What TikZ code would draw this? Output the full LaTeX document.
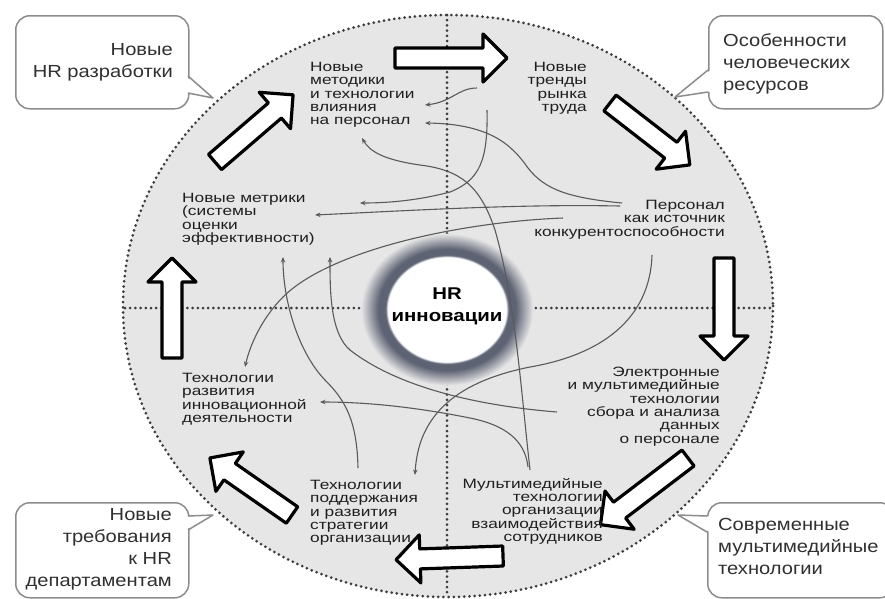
\documentclass[tikz,border=0pt]{standalone}
\usepackage{fontspec}
\setmainfont{Liberation Sans}
\newfontfamily\lblfont{Liberation Sans}[FakeStretch=1.28]
\newfontfamily\calfont{Liberation Sans}[FakeStretch=1.15]
\newfontfamily\ctrfont{Liberation Sans}[FakeStretch=1.2]
\usetikzlibrary{arrows.meta}
\definecolor{ellfill}{HTML}{E6E6E6}
\definecolor{ringc}{HTML}{5E6374}
\definecolor{dotc}{HTML}{3C3C3C}
\definecolor{curvec}{HTML}{5A5A5A}
\definecolor{txtc}{HTML}{1F1F1F}
\definecolor{calc}{HTML}{303030}
\definecolor{boxc}{HTML}{8C8C8C}
\pgfdeclareradialshading{hrring}{\pgfpoint{0bp}{0bp}}{color(0bp)=(white); color(17.2bp)=(white); color(17.9bp)=(ringc); color(20bp)=(ringc); color(25bp)=(ellfill); color(50bp)=(ellfill)}
\newcommand\blockarr[4]{%
  \draw[barr, shift={(#1,#2)}, rotate=#3] (0,-10) -- ({#4-24},-10) -- ({#4-24},-24) -- (#4,0) -- ({#4-24},24) -- ({#4-24},10) -- (0,10) -- cycle;}
\begin{document}
\begin{tikzpicture}[x=1pt,y=-1pt,
  dotl/.style={draw=dotc, line width=3pt, line cap=round, dash pattern=on 0pt off 5.2pt},
  conn/.style={draw=curvec, line width=1.1pt, -{Stealth[length=5.5pt,width=4.5pt]}},
  barr/.style={draw=black, fill=white, line width=3.2pt, line join=round},
  lbl/.style={inner sep=0pt, text=txtc, font=\lblfont\fontsize{13.5pt}{13.3pt}\selectfont},
  cal/.style={inner sep=0pt, text=calc, font=\calfont\fontsize{17.5pt}{22pt}\selectfont},
  calbox/.style={draw=boxc, fill=white, line width=1.5pt, rounded corners=14pt, inner sep=0pt},
  tailline/.style={draw=boxc, line width=1.5pt, line join=round},
  ctr/.style={inner sep=0pt, align=center, text=black, font=\ctrfont\bfseries\fontsize{17pt}{22pt}\selectfont}]
\clip (0,0) rectangle (885,598);
\fill[white] (0,0) rectangle (885,598);
% ellipse and crosshair
\fill[ellfill] (448,306) ellipse [x radius=325, y radius=291];
\draw[dotl] (447,15) -- (447,597);
\draw[dotl] (125,308) -- (771,308);
\draw[dotl] (448,306) ellipse [x radius=325, y radius=291];
\shade[shading=hrring] (447,309.5) ellipse [x radius=86pt, y radius=76pt];
% curves
\coordinate (c1s) at (477,88); \coordinate (c1e) at (425,105);
\draw[conn] (c1s) .. controls (458,88) and (452,102) .. (c1e);
\coordinate (c2s) at (622,203); \coordinate (c2e) at (425,123);
\draw[conn] (c2s) .. controls (570,198) and (545,190) .. (528,168) .. controls (512,145) and (490,124) .. (c2e);
\coordinate (c3s) at (530,470); \coordinate (c3e) at (362,138);
\draw[conn] (c3s) .. controls (520,380) and (515,300) .. (495,230) .. controls (480,185) and (460,170) .. (420,165) .. controls (385,160) and (370,152) .. (c3e);
\coordinate (c4s) at (487,110); \coordinate (c4e) at (360,203);
\draw[conn] (c4s) .. controls (488,160) and (480,180) .. (450,192) .. controls (420,200) and (390,203) .. (c4e);
\coordinate (c5s) at (620,206); \coordinate (c5e) at (315,215);
\draw[conn] (c5s) .. controls (520,204) and (420,210) .. (c5e);
\coordinate (c6s) at (563,218); \coordinate (c6e) at (245,367);
\draw[conn] (c6s) .. controls (460,222) and (330,250) .. (283,297) .. controls (262,318) and (250,345) .. (c6e);
\coordinate (c7s) at (652,255); \coordinate (c7e) at (415,475);
\draw[conn] (c7s) .. controls (650,320) and (600,355) .. (530,367) .. controls (450,383) and (418,420) .. (c7e);
\coordinate (c8s) at (358,468); \coordinate (c8e) at (283,257);
\draw[conn] (c8s) .. controls (357,420) and (345,400) .. (325,380) .. controls (298,352) and (283,300) .. (c8e);
\coordinate (c9s) at (557,412); \coordinate (c9e) at (330,257);
\draw[conn] (c9s) .. controls (470,405) and (395,385) .. (350,350) .. controls (330,333) and (330,290) .. (c9e);
\coordinate (c10s) at (528,467); \coordinate (c10e) at (320,402);
\draw[conn] (c10s) .. controls (525,440) and (505,425) .. (470,418) .. controls (420,408) and (370,402) .. (c10e);
% block arrows
\blockarr{395}{58}{0}{112}
\blockarr{610}{103}{-37.8}{101}
\blockarr{724}{258}{-90}{102}
\blockarr{688}{458}{217.3}{110}
\blockarr{503}{556}{182}{107}
\blockarr{292}{515}{145.2}{100}
\blockarr{172}{358}{90}{100}
\blockarr{215}{162}{40.7}{103}
% labels
\node[lbl, anchor=north west, align=left] (met) at (310,62) {Новые\\методики\\и технологии\\влияния\\на персонал};
\node[lbl, anchor=north east, align=right] (tr) at (587,62) {Новые\\тренды\\рынка\\труда};
\node[lbl, anchor=north west, align=left] (metr) at (182,193) {Новые метрики\\(системы\\оценки\\эффективности)};
\node[lbl, anchor=north east, align=right] (pers) at (725,200) {Персонал\\как источник\\конкурентоспособности};
\node[lbl, anchor=north west, align=left] (razv) at (182,373) {Технологии\\развития\\инновационной\\деятельности};
\node[lbl, anchor=north east, align=right] (el) at (720,367) {Электронные\\и мультимедийные\\технологии\\сбора и анализа\\данных\\о персонале};
\node[lbl, anchor=north west, align=left] (podd) at (310,480) {Технологии\\поддержания\\и развития\\стратегии\\организации};
\node[lbl, anchor=north east, align=right] (mult) at (603,478) {Мультимедийные\\технологии\\организации\\взаимодействия\\сотрудников};
% center
\node[ctr] (hr) at (447,306) {HR\\инновации};
% callouts
\node[calbox, anchor=north west, minimum width=173pt, minimum height=93pt] (tlb) at (15,15) {};
\fill[white] (186,76.5) -- (213,98) -- (186,92.5) -- cycle;
\coordinate (tlp) at (213,98);
\draw[tailline] (188,76) -- (tlp) -- (188,93);
\node[calbox, anchor=north west, minimum width=174pt, minimum height=93pt] (trb) at (708,15) {};
\fill[white] (710,70.5) -- (675,97) -- (710,91.5) -- cycle;
\coordinate (trp) at (675,97);
\draw[tailline] (708,70) -- (trp) -- (708,92);
\node[calbox, anchor=north west, minimum width=173pt, minimum height=95pt] (blb) at (15,502) {};
\fill[white] (186,516.5) -- (213,515) -- (186,529.5) -- cycle;
\coordinate (blp) at (213,515);
\draw[tailline] (188,516) -- (blp) -- (188,530);
\node[calbox, anchor=north west, minimum width=186pt, minimum height=95pt] (brb) at (707,502) {};
\fill[white] (709,516.5) -- (678,515) -- (709,531.5) -- cycle;
\coordinate (brp) at (678,515);
\draw[tailline] (707,516) -- (brp) -- (707,532);
\node[cal, anchor=north east, align=right] (tlt) at (173,43) {Новые\\HR разработки};
\node[cal, anchor=north west, align=left] (trt) at (723,33) {Особенности\\человеческих\\ресурсов};
\node[cal, anchor=north east, align=right] (blt) at (172,508) {Новые\\требования\\к HR\\департаментам};
\node[cal, anchor=north west, align=left] (brt) at (718,518) {Современные\\мультимедийные\\технологии};
\end{tikzpicture}
\end{document}
